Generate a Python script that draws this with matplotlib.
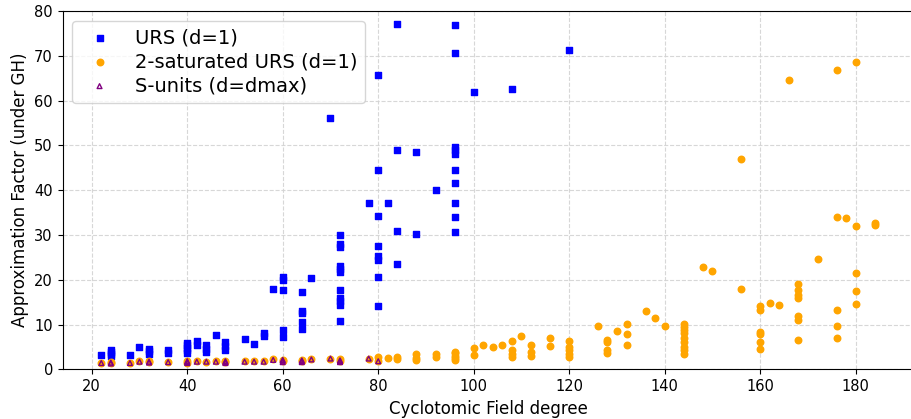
import matplotlib
matplotlib.use("Agg")
import matplotlib.pyplot as plt

# URS (d=1)
urs_x = [22, 24, 24, 24, 24, 28, 30, 32, 32, 32, 36, 36, 40, 40, 40, 40, 40, 42, 42,
         44, 44, 44, 46, 48, 48, 48, 52, 54, 56, 56, 58, 60, 60, 60, 60, 60,
         64, 64, 64, 64, 64, 66, 70,
         72, 72, 72, 72, 72, 72, 72, 72, 72, 72, 72,
         78, 80, 80, 80, 80, 80, 80, 80, 80, 82, 84, 84, 84, 84, 88, 88, 92,
         96, 96, 96, 96, 96, 96, 96, 96, 96, 96, 100, 108, 120]
urs_y = [3.1, 2.9, 3.4, 3.9, 4.4, 3.1, 5.0, 3.5, 4.0, 4.5, 3.7, 4.3, 3.6, 4.2, 4.8, 5.4, 5.9, 5.4, 6.3,
         3.9, 4.6, 5.4, 7.6, 4.4, 5.2, 6.2, 6.7, 5.7, 7.5, 8.1, 17.9, 7.2, 8.7, 17.7, 19.9, 20.6,
         9.1, 10.6, 12.5, 13.0, 17.2, 20.4, 56.1,
         10.8, 14.3, 15.2, 16.0, 17.7, 21.7, 22.5, 23.0, 27.3, 28.0, 29.9,
         37.2, 14.1, 20.6, 24.5, 25.3, 27.5, 34.3, 44.4, 65.7, 37.2, 23.6, 30.9, 48.9, 77.2, 30.1, 48.5, 40.0,
         30.6, 34.1, 37.2, 41.5, 44.4, 48.0, 48.9, 49.7, 70.6, 76.8, 61.9, 62.6, 71.2]

# 2-saturated URS (d=1)
sat_x = [22, 24, 24, 28, 30, 32, 32, 36, 40, 40, 42, 44, 46, 48, 48, 52, 54, 56, 58, 60, 60,
         64, 64, 66, 70, 72, 72, 78, 80, 80, 82, 84, 84, 88, 88, 88, 92, 92,
         96, 96, 96, 96, 96, 100, 100, 102, 104, 106, 108, 108, 108, 108, 110,
         112, 112, 112, 116, 116, 120, 120, 120, 120, 120, 126, 128, 128, 128, 128, 130,
         132, 132, 132, 136, 138, 140,
         144, 144, 144, 144, 144, 144, 144, 144, 144, 148, 150, 156, 156,
         160, 160, 160, 160, 160, 160, 162, 164, 166,
         168, 168, 168, 168, 168, 168, 168, 172, 176, 176, 176, 176, 176, 178,
         180, 180, 180, 180, 180, 184, 184]
sat_y = [1.5, 1.4, 1.7, 1.5, 1.8, 1.6, 1.8, 1.7, 1.5, 1.8, 1.8, 1.7, 1.8, 1.6, 1.9, 1.8, 1.8, 1.8, 2.2, 1.8, 2.1,
         1.8, 2.1, 2.2, 2.4, 1.8, 2.2, 2.4, 1.8, 2.7, 2.6, 2.2, 2.8, 2.0, 2.6, 3.4, 2.8, 3.4,
         2.0, 2.5, 3.0, 3.6, 3.9, 3.1, 4.8, 5.4, 4.9, 5.4, 2.8, 3.5, 4.3, 6.3, 7.5,
         3.0, 3.9, 5.4, 5.1, 7.0, 2.8, 3.5, 4.3, 5.0, 6.3, 9.6, 3.7, 4.4, 6.1, 6.6, 8.5,
         5.4, 7.8, 10.1, 13.0, 11.4, 9.6,
         3.5, 4.2, 5.0, 6.0, 7.0, 8.0, 8.8, 9.5, 10.2, 22.9, 21.9, 17.9, 47.0,
         4.5, 6.0, 7.9, 8.4, 13.2, 14.1, 14.8, 14.3, 64.6,
         6.6, 11.0, 11.9, 15.9, 16.6, 17.7, 19.0, 24.7, 7.0, 9.7, 13.3, 34.0, 66.9, 33.7,
         14.6, 17.4, 21.6, 31.9, 68.6, 32.2, 32.6]

# S-units (d=dmax)
su_x = [22, 24, 24, 28, 30, 32, 32, 36, 40, 40, 40, 42, 44, 46, 48, 48, 48, 52, 54, 56, 58,
        60, 60, 60, 64, 64, 64, 66, 70, 72, 72, 72, 78, 80]
su_y = [1.4, 1.3, 1.5, 1.4, 1.7, 1.5, 1.7, 1.6, 1.4, 1.6, 1.8, 1.7, 1.7, 1.7, 1.4, 1.6, 1.8, 1.7, 1.7, 1.7, 2.1,
        1.6, 1.9, 2.1, 1.6, 1.8, 2.0, 2.2, 2.4, 1.6, 1.8, 2.0, 2.4, 1.8]

fig = plt.figure(figsize=(9.12, 4.19), dpi=100)
ax = fig.add_axes([62.6 / 912, 49.7 / 419, 850.9 / 912, 358.3 / 419])

ax.scatter(urs_x, urs_y, marker='s', s=16, color='blue', label='URS (d=1)', zorder=3)
ax.scatter(sat_x, sat_y, marker='o', s=22, color='orange', label='2-saturated URS (d=1)', zorder=3)
ax.scatter(su_x, su_y, marker='^', s=12, facecolors='none', edgecolors='purple',
           linewidths=1.0, label='S-units (d=dmax)', zorder=4)

ax.set_ylim(0, 80)
ax.set_xlabel('Cyclotomic Field degree', fontsize=12)
ax.set_ylabel('Approximation Factor (under GH)', fontsize=12)
ax.tick_params(labelsize=10.5)
ax.grid(True, linestyle='--', color='lightgray', alpha=0.9, zorder=0)
ax.set_axisbelow(True)
ax.legend(loc='upper left', fontsize=14, labelspacing=0.25)

fig.savefig('out.png', dpi=100)
